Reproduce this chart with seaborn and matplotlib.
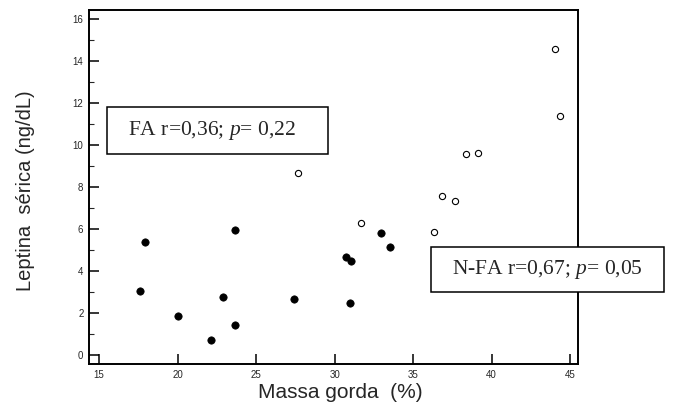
import pandas as pd
import seaborn as sns
import matplotlib.pyplot as plt
from matplotlib.patches import Rectangle
from matplotlib.ticker import MultipleLocator

# Filled markers (FA group)
fa_massa = [17.9, 17.6, 20.05, 22.15, 22.9, 23.65, 23.65, 27.4, 30.75, 31.05, 30.95, 32.95, 33.55]
fa_leptina = [5.35, 3.05, 1.82, 0.71, 2.75, 5.94, 1.43, 2.65, 4.67, 4.48, 2.46, 5.81, 5.11]

# Open markers (N-FA group)
nfa_massa = [27.65, 31.65, 36.35, 36.85, 37.65, 38.35, 39.15, 44.05, 44.35]
nfa_leptina = [8.67, 6.27, 5.84, 7.56, 7.30, 9.56, 9.59, 14.57, 11.37]

fa_label = r"FA r=0,36; $p$= 0,22"
nfa_label = r"N-FA r=0,67; $p$= 0,05"

df_fa = pd.DataFrame({'massa': fa_massa, 'leptina': fa_leptina})
df_nfa = pd.DataFrame({'massa': nfa_massa, 'leptina': nfa_leptina})

sns.set_style("white")
plt.rcParams['font.family'] = ['Liberation Sans', 'DejaVu Sans']
plt.rcParams['mathtext.fontset'] = 'custom'
plt.rcParams['mathtext.rm'] = 'Liberation Serif'
plt.rcParams['mathtext.it'] = 'Liberation Serif:italic'

fig = plt.figure(figsize=(6.77, 4.07), dpi=100)
ax = fig.add_axes([0.1315, 0.1057, 0.7223, 0.8697])

sns.scatterplot(data=df_fa, x='massa', y='leptina', ax=ax, color='black',
                s=28, edgecolor='black', linewidth=0.5, zorder=3)
sns.scatterplot(data=df_nfa, x='massa', y='leptina', ax=ax, facecolor='white',
                s=20, edgecolor='black', linewidth=0.8, zorder=3)

ax.set_xlim(14.36, 45.5)
ax.set_ylim(-0.45, 16.43)
ax.xaxis.set_major_locator(MultipleLocator(5))
ax.yaxis.set_major_locator(MultipleLocator(2))
ax.yaxis.set_minor_locator(MultipleLocator(1))
ax.tick_params(axis='both', which='major', direction='in', length=7, width=1.1,
               labelsize=7, color='black', bottom=True, left=True)
ax.tick_params(axis='x', which='major', pad=4)
ax.tick_params(axis='y', which='major', pad=4)
ax.tick_params(axis='y', which='minor', direction='in', length=3.5, width=0.8, left=True)
for sp in ax.spines.values():
    sp.set_linewidth(1.4)
    sp.set_color('black')

ax.set_xlabel("Massa gorda  (%)", fontsize=15)
ax.set_ylabel("Leptina  sérica (ng/dL)", fontsize=14.5)
ax.xaxis.set_label_coords(0.513, -0.055)
ax.yaxis.set_label_coords(-0.11, 0.49)

# Annotation boxes
fig.patches.append(Rectangle((0.1576, 0.6216), 0.3269, 0.1155, transform=fig.transFigure,
                             facecolor='white', edgecolor='black', linewidth=1.1, zorder=5))
fig.text(0.1886, 0.679, fa_label, fontsize=15.5, family='Liberation Serif',
         va='center', ha='left', zorder=6)
fig.patches.append(Rectangle((0.6366, 0.2818), 0.3442, 0.1106, transform=fig.transFigure,
                             facecolor='white', edgecolor='black', linewidth=1.1, zorder=5))
fig.text(0.6672, 0.3371, nfa_label, fontsize=15.5, family='Liberation Serif',
         va='center', ha='left', zorder=6)

fig.savefig('out.png', dpi=100)
